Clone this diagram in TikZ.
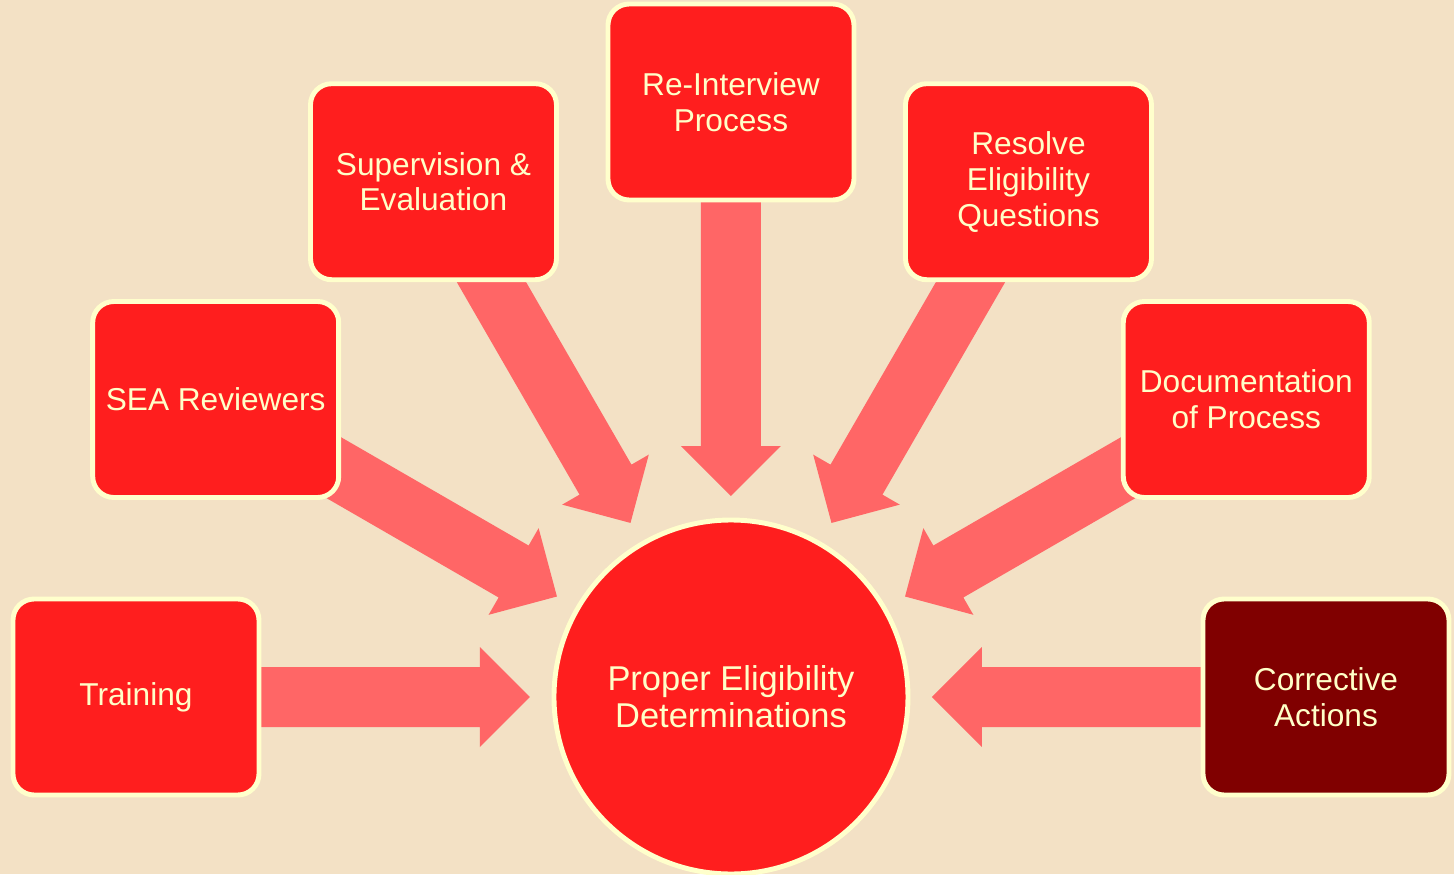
\documentclass[tikz,border=0pt]{standalone}
\usepackage{fontspec}
\setmainfont{Liberation Sans}
\usepackage{tikz}
\usetikzlibrary{calc,backgrounds}
\pgfdeclarelayer{arrows}
\pgfsetlayers{background,arrows,main}

\definecolor{linen}{RGB}{243,225,197}
\definecolor{boxred}{RGB}{255,30,30}
\definecolor{darkred}{RGB}{128,0,0}
\definecolor{rim}{RGB}{255,255,204}
\definecolor{fatpink}{RGB}{255,102,102}
\definecolor{paletext}{RGB}{255,255,200}

% broad block arrow: shaft 6mm wide, head 10mm wide and 5mm long
\newcommand{\fatarrow}[2]{%
  \coordinate (neck) at ($(#2)!0.5cm!(#1)$);
  \fill[fatpink] ($(#1)!0.3cm!90:(#2)$) -- ($(neck)!0.3cm!90:(#2)$)
    -- ($(neck)!0.5cm!90:(#2)$) -- (#2)
    -- ($(neck)!0.5cm!-90:(#2)$) -- ($(neck)!0.3cm!-90:(#2)$)
    -- ($(#1)!0.3cm!-90:(#2)$) -- cycle;
}

\begin{document}
\begin{tikzpicture}[
    field/.style={draw=rim, fill=boxred, text=paletext, rounded corners=6pt, line width=1.4pt,
      minimum width=2.46cm, minimum height=1.96cm, align=center, inner sep=1pt,
      font=\fontsize{9}{10.2}\selectfont},
    hub/.style={circle, draw=rim, fill=boxred, text=paletext, line width=1.4pt,
      minimum size=3.54cm, inner sep=0pt, align=center,
      font=\fontsize{9.8}{10.5}\selectfont}
]
\useasboundingbox (-7.31,-1.77) rectangle (7.23,6.97);
\begin{pgfonlayer}{background}
\fill[linen] (-7.31,-1.77) rectangle (7.23,6.97);
\end{pgfonlayer}

\node[hub] (goal) at (0,0) {Proper Eligibility\\Determinations};

\node[field] (train) at (180:5.95) {Training};
\node[field] (sea) at (150:5.95) {SEA Reviewers};
\node[field] (sup) at (120:5.95) {Supervision \&\\Evaluation};
\node[field] (reint) at (90:5.95) {Re-Interview\\Process};
\node[field] (resolve) at (60:5.95) {Resolve\\Eligibility\\Questions};
\node[field] (doc) at (30:5.95) {Documentation\\of Process};
\node[field, fill=darkred] (fix) at (0:5.95) {Corrective\\Actions};

% arrow tips stop short of the circle
\coordinate (train-tip) at ($(goal.center)!2.01cm!(train.center)$);
\coordinate (sea-tip) at ($(goal.center)!2.01cm!(sea.center)$);
\coordinate (sup-tip) at ($(goal.center)!2.01cm!(sup.center)$);
\coordinate (reint-tip) at ($(goal.center)!2.01cm!(reint.center)$);
\coordinate (resolve-tip) at ($(goal.center)!2.01cm!(resolve.center)$);
\coordinate (doc-tip) at ($(goal.center)!2.01cm!(doc.center)$);
\coordinate (fix-tip) at ($(goal.center)!2.01cm!(fix.center)$);

\begin{pgfonlayer}{arrows}
\fatarrow{train.center}{train-tip}
\fatarrow{sea.center}{sea-tip}
\fatarrow{sup.center}{sup-tip}
\fatarrow{reint.center}{reint-tip}
\fatarrow{resolve.center}{resolve-tip}
\fatarrow{doc.center}{doc-tip}
\fatarrow{fix.center}{fix-tip}
\end{pgfonlayer}
\end{tikzpicture}
\end{document}
